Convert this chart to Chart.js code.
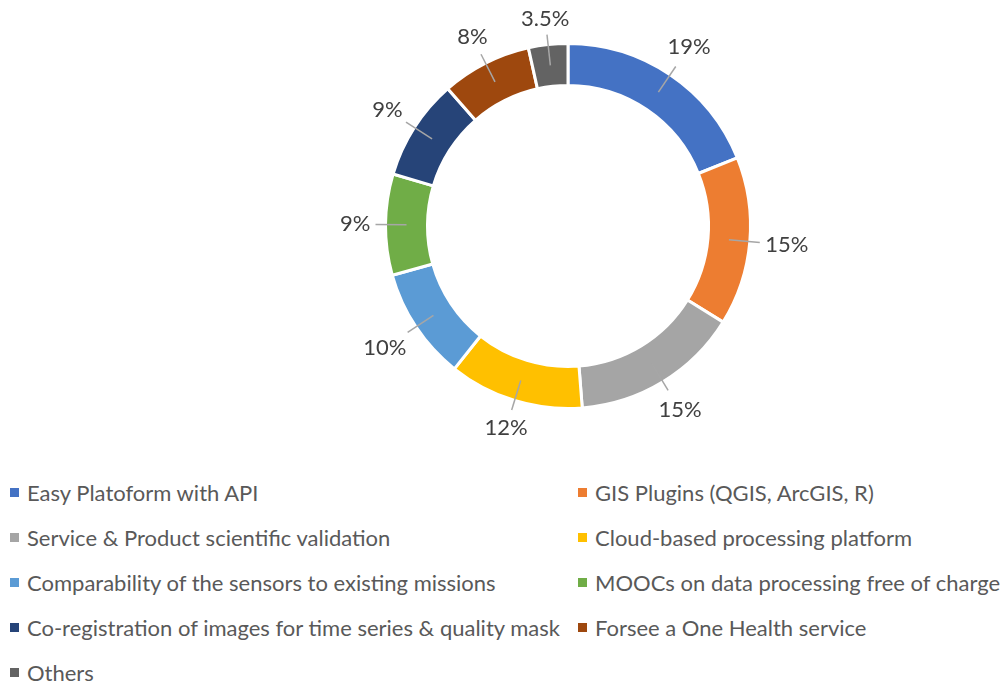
<!DOCTYPE html>
<html>
<head>
<meta charset="utf-8">
<script src="https://cdn.jsdelivr.net/npm/chart.js@4"></script>
<style>
body{margin:0;background:#fff;width:1001px;height:682px;overflow:hidden;font-family:Lato,"Open Sans",sans-serif;}
#wrap{position:absolute;left:0;top:0;width:1001px;height:470px;}
#legend{position:absolute;left:10px;top:470px;width:991px;display:grid;grid-template-columns:568px 423px;grid-auto-rows:45px;}
.item{display:flex;align-items:center;font-size:22px;color:#595959;white-space:nowrap;}
.box{width:9px;height:9px;margin-right:8px;flex:none;}
</style>
</head>
<body>
<div id="wrap"><canvas id="myChart" width="1001" height="470"></canvas></div>
<div id="legend"></div>
<script>
const needs = [
  "Easy Platoform with API",
  "GIS Plugins (QGIS, ArcGIS, R)",
  "Service & Product scientific validation",
  "Cloud-based processing platform",
  "Comparability of the sensors to existing missions",
  "MOOCs on data processing free of charge",
  "Co-registration of images for time series & quality mask",
  "Forsee a One Health service",
  "Others"
];
const shares = [19, 15, 15, 12, 10, 9, 9, 8, 3.5];
const sliceColors = ["#4472C4","#ED7D31","#A5A5A5","#FFC000","#5B9BD5","#70AD47","#264478","#9E480E","#636363"];

// legend, two columns like the Excel one
const legendDiv = document.querySelector("#legend");
for (let i = 0; i < needs.length; i++) {
  const item = document.createElement("div");
  item.className = "item";
  const box = document.createElement("span");
  box.className = "box";
  box.style.background = sliceColors[i];
  const label = document.createElement("span");
  label.textContent = needs[i];
  item.appendChild(box);
  item.appendChild(label);
  legendDiv.appendChild(item);
}

// percentage labels outside the ring, with leader lines
const outsideLabels = {
  id: "outsideLabels",
  afterDatasetsDraw(chart) {
    const ctx = chart.ctx;
    const meta = chart.getDatasetMeta(0);
    ctx.save();
    ctx.font = '22px Lato, "Open Sans", sans-serif';
    ctx.textAlign = "center";
    ctx.textBaseline = "middle";
    meta.data.forEach((arc, i) => {
      const p = arc.getProps(["x","y","startAngle","endAngle","innerRadius","outerRadius"], true);
      const mid = (p.startAngle + p.endAngle) / 2;
      const dx = Math.cos(mid), dy = Math.sin(mid);
      const text = shares[i] + "%";
      const w = ctx.measureText(text).width, h = 16;
      const half = Math.abs(dx) * w / 2 + Math.abs(dy) * h / 2;
      const dist = p.outerRadius + 15 + half;
      const rm = (p.innerRadius + p.outerRadius) / 2;
      ctx.strokeStyle = "#A6A6A6";
      ctx.lineWidth = 1.5;
      ctx.beginPath();
      ctx.moveTo(p.x + dx * rm, p.y + dy * rm);
      ctx.lineTo(p.x + dx * (p.outerRadius + 10), p.y + dy * (p.outerRadius + 10));
      ctx.stroke();
      ctx.fillStyle = "#404040";
      ctx.fillText(text, p.x + dx * dist, p.y + dy * dist);
    });
    ctx.restore();
  }
};

new Chart("myChart", {
  type: "doughnut",
  data: {
    labels: needs,
    datasets: [{
      data: shares,
      backgroundColor: sliceColors,
      borderColor: "#ffffff",
      borderWidth: 3,
      hoverOffset: 0
    }]
  },
  options: {
    responsive: false,
    animation: false,
    cutout: "77%",
    layout: { padding: { top: 42, bottom: 60, left: 200, right: 65 } },
    plugins: {
      legend: { display: false },
      tooltip: { enabled: false }
    }
  },
  plugins: [outsideLabels]
});
</script>
</body>
</html>
